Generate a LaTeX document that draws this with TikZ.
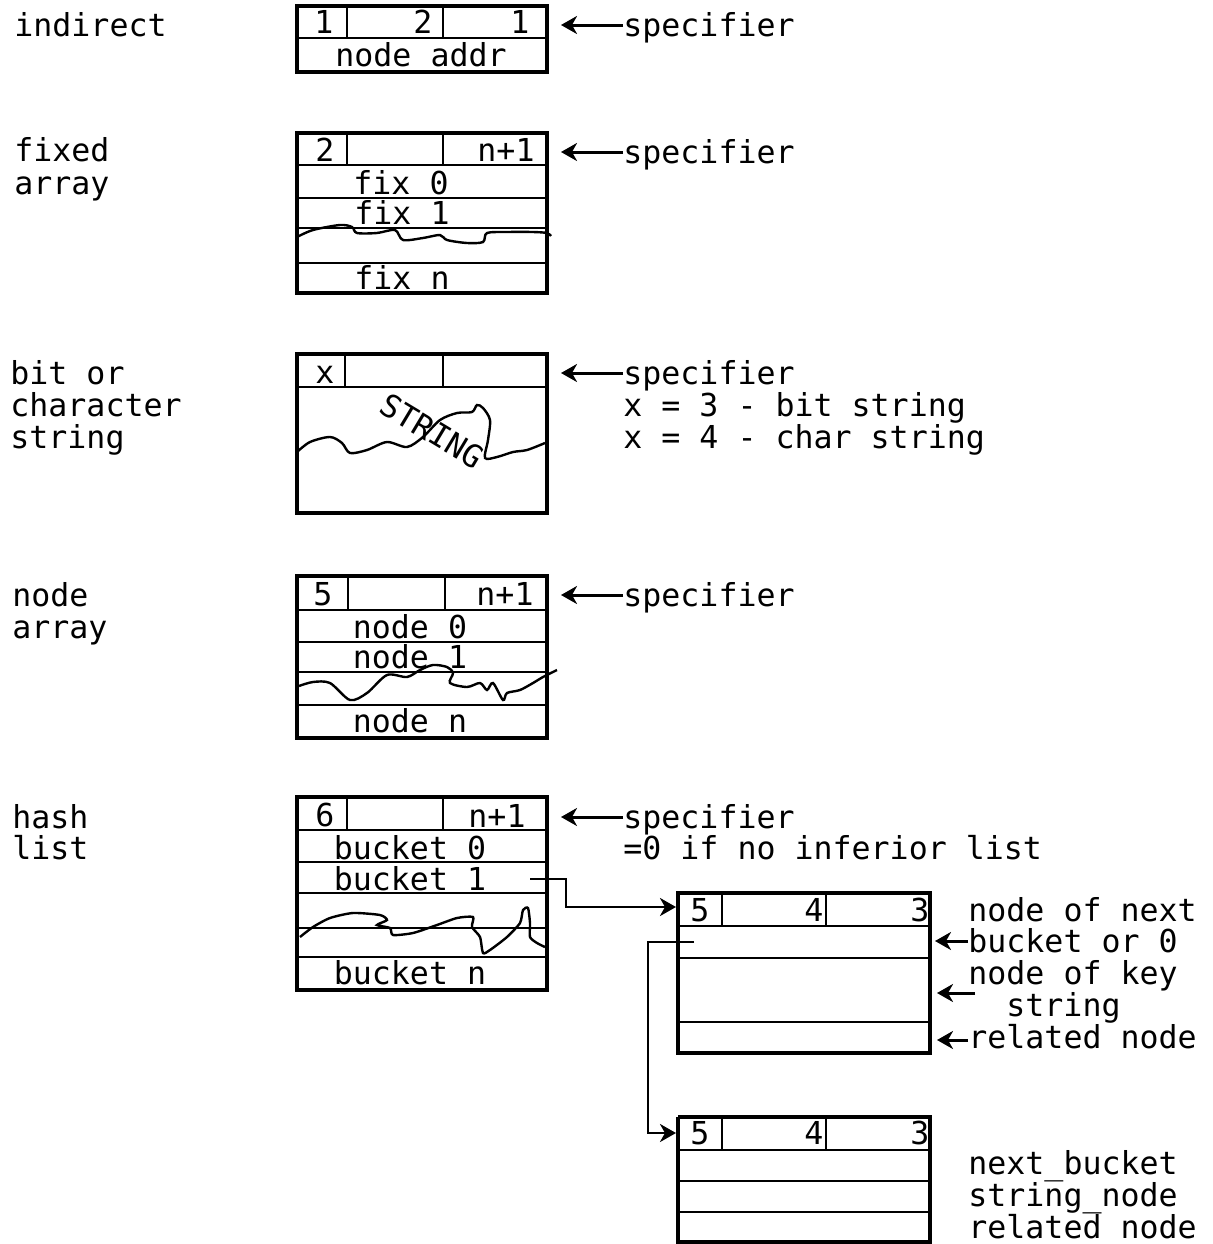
\documentclass[tikz,border=0pt]{standalone}
\usepackage{fontspec}
\newfontfamily\twfont{DejaVu Sans Mono}
\usetikzlibrary{arrows.meta}
\begin{document}
\begin{tikzpicture}[x=0.5pt,y=-0.5pt,
  font=\twfont\fontsize{15.8}{19}\selectfont,
  lbl/.style={anchor=mid west,inner sep=0pt,yshift=-3.5pt},
  ctr/.style={anchor=mid,inner sep=0pt,yshift=-3.5pt},
  frame/.style={line width=1.7pt},
  rule/.style={line width=1.4pt},
  wave/.style={line width=1.2pt},
  ptr/.style={line width=1.5pt,-{Stealth[length=8pt,width=9pt,inset=2.5pt]}},
  conn/.style={line width=1.4pt,-{Stealth[length=8pt,width=9pt,inset=2.5pt]}}]
\useasboundingbox (0,0) rectangle (1213,1244);

% ---------- left labels
\node[lbl] (l-ind) at (14,25) {indirect};
\node[lbl] (l-fix1) at (14,150) {fixed};
\node[lbl] (l-fix2) at (14,183) {array};
\node[lbl] (l-str1) at (10,373) {bit or};
\node[lbl] (l-str2) at (10,405) {character};
\node[lbl] (l-str3) at (10,437) {string};
\node[lbl] (l-nod1) at (12,595) {node};
\node[lbl] (l-nod2) at (12,627) {array};
\node[lbl] (l-hsh1) at (12,817) {hash};
\node[lbl] (l-hsh2) at (12,848) {list};

% ---------- indirect
\draw[frame] (297,6) rectangle (547,72);
\draw[rule] (297,38) -- (547,38) (347,6) -- (347,38) (443,6) -- (443,38);
\node[ctr] (i-a) at (324,22) {1};
\node[ctr] (i-b) at (423,22) {2};
\node[ctr] (i-c) at (520,22) {1};
\node[ctr] (i-d) at (421,55) {node addr};
\coordinate (i-e) at (561,25);
\node[lbl] (s1) at (623,25) {specifier};
\draw[ptr] (s1.west |- i-e) -- (i-e);

% ---------- fixed array
\draw[frame] (297,133) rectangle (547,293);
\draw[rule] (297,165) -- (547,165) (297,198) -- (547,198) (297,228) -- (547,228)
            (297,263) -- (547,263) (347,133) -- (347,165) (443,133) -- (443,165);
\draw[wave] plot[smooth,tension=0.5] coordinates {(297,237) (313,230) (340,225) (352,227) (357,233)
  (377,233) (395,230) (403,240) (423,238) (440,235) (447,240) (467,243) (483,242) (487,233)
  (507,232) (533,232) (547,233) (551,236)};
\node[ctr] (f-a) at (325,150) {2};
\node[ctr] (f-b) at (506,150) {n+1};
\node[ctr] (f-c) at (401,183) {fix 0};
\node[ctr] (f-d) at (402,213) {fix 1};
\node[ctr] (f-e) at (402,278) {fix n};
\coordinate (f-p) at (561,152);
\node[lbl] (s2) at (623,152) {specifier};
\draw[ptr] (s2.west |- f-p) -- (f-p);

% ---------- string
\draw[frame] (297,354) rectangle (547,513);
\draw[rule] (297,387) -- (547,387) (345,354) -- (345,387) (443,354) -- (443,387);
\draw[wave] plot[smooth,tension=0.5] coordinates {(297,452) (310,442) (330,437) (342,443) (350,453)
  (367,450) (387,442) (407,447) (423,437) (440,420) (457,413) (472,412) (477,405) (483,408)
  (490,420) (488,440) (485,458) (497,457) (513,452) (527,450) (545,443)};
\node[ctr] (b-x) at (325,372) {x};
\node[anchor=center,inner sep=0pt,rotate=-31] (b-s) at (432,431) {STRING};
\coordinate (b-p) at (561,373);
\node[lbl] (s3) at (623,373) {specifier};
\node[lbl] (s3b) at (623,405) {x = 3 - bit string};
\node[lbl] (s3c) at (623,437) {x = 4 - char string};
\draw[ptr] (s3.west |- b-p) -- (b-p);

% ---------- node array
\draw[frame] (297,576) rectangle (547,738);
\draw[rule] (297,610) -- (547,610) (297,642) -- (547,642) (297,672) -- (547,672)
            (297,705) -- (547,705) (348,576) -- (348,610) (445,576) -- (445,610);
\draw[wave] plot[smooth,tension=0.5] coordinates {(299,686) (313,682) (330,683) (350,700) (367,693)
  (387,675) (407,677) (420,670) (433,665) (447,667) (453,673) (450,683) (467,687) (480,683)
  (487,690) (493,683) (503,700) (507,693) (520,690) (533,683) (543,677) (557,670)};
\node[ctr] (n-a) at (323,594) {5};
\node[ctr] (n-b) at (505,594) {n+1};
\node[ctr] (n-c) at (410,627) {node 0};
\node[ctr] (n-d) at (410,657) {node 1};
\node[ctr] (n-e) at (410,721) {node n};
\coordinate (n-p) at (561,595);
\node[lbl] (s4) at (623,595) {specifier};
\draw[ptr] (s4.west |- n-p) -- (n-p);

% ---------- hash list
\draw[frame] (297,797) rectangle (547,990);
\draw[rule] (297,830) -- (547,830) (297,862) -- (547,862) (297,893) -- (547,893)
            (297,928) -- (547,928) (297,957) -- (547,957)
            (347,797) -- (347,830) (443,797) -- (443,830);
\draw[wave] plot[smooth,tension=0.4] coordinates {(300,937) (313,927) (330,918) (353,913) (380,915)
  (387,920) (377,925) (390,928) (393,935) (413,933) (437,925) (457,918) (473,917) (472,927)
  (480,937) (483,953) (490,950) (507,937) (520,923) (523,910) (528,908) (530,923) (530,937)
  (537,943) (545,947)};
\node[ctr] (h-a) at (325,815) {6};
\node[ctr] (h-b) at (497,816) {n+1};
\node[ctr] (h-c) at (410,848) {bucket 0};
\node[ctr] (h-d) at (410,879) {bucket 1};
\node[ctr] (h-e) at (410,973) {bucket n};
\coordinate (h-p) at (561,817);
\node[lbl] (s5) at (623,817) {specifier};
\node[lbl] (s5b) at (623,848) {=0 if no inferior list};
\draw[ptr] (s5.west |- h-p) -- (h-p);

% ---------- bucket node 1
\draw[frame] (678,893) rectangle (930,1053);
\draw[rule] (678,926) -- (930,926) (678,958) -- (930,958) (678,1022) -- (930,1022)
            (722,893) -- (722,926) (826,893) -- (826,926);
\node[ctr] (k-a) at (700,910) {5};
\node[ctr] (k-b) at (814,910) {4};
\node[ctr] (k-c) at (920,910) {3};
\coordinate (k-in) at (676,907);
\node[lbl] (k-t1) at (968,910) {node of next};
\node[lbl] (k-t2) at (968,941) {bucket or 0};
\node[lbl] (k-t3) at (968,973) {node of key};
\node[lbl] (k-t4) at (1006,1005) {string};
\node[lbl] (k-t5) at (968,1037) {related node};
\coordinate (k-r1) at (935,941);
\coordinate (k-r2a) at (975,993);
\coordinate (k-r2) at (937,993);
\coordinate (k-r3) at (937,1040);
\draw[ptr] (k-t2.west |- k-r1) -- (k-r1);
\draw[ptr] (k-r2a) -- (k-r2);
\draw[ptr] (k-t5.west |- k-r3) -- (k-r3);

% ---------- bucket node 2
\draw[frame] (678,1117) -- (930,1117) -- (930,1244) (678,1117) -- (678,1244);
\draw[frame] (678,1242) -- (930,1242);
\draw[rule] (678,1150) -- (930,1150) (678,1181) -- (930,1181) (678,1212) -- (930,1212)
            (722,1117) -- (722,1150) (826,1117) -- (826,1150);
\node[ctr] (m-a) at (700,1133) {5};
\node[ctr] (m-b) at (814,1133) {4};
\node[ctr] (m-c) at (920,1133) {3};
\coordinate (m-in) at (676,1133);
\node[lbl] (m-t1) at (968,1163) {next\_bucket};
\node[lbl] (m-t2) at (968,1195) {string\_node};
\node[lbl] (m-t3) at (968,1227) {related\_node};

% ---------- connectors
\coordinate (h-out) at (530,879);
\draw[conn] (h-out) -- (566,879) -- (566,907) -- (k-in);
\coordinate (k-out) at (694,942);
\draw[conn] (k-out) -- (648,942) -- (648,1133) -- (m-in);
\end{tikzpicture}
\end{document}
